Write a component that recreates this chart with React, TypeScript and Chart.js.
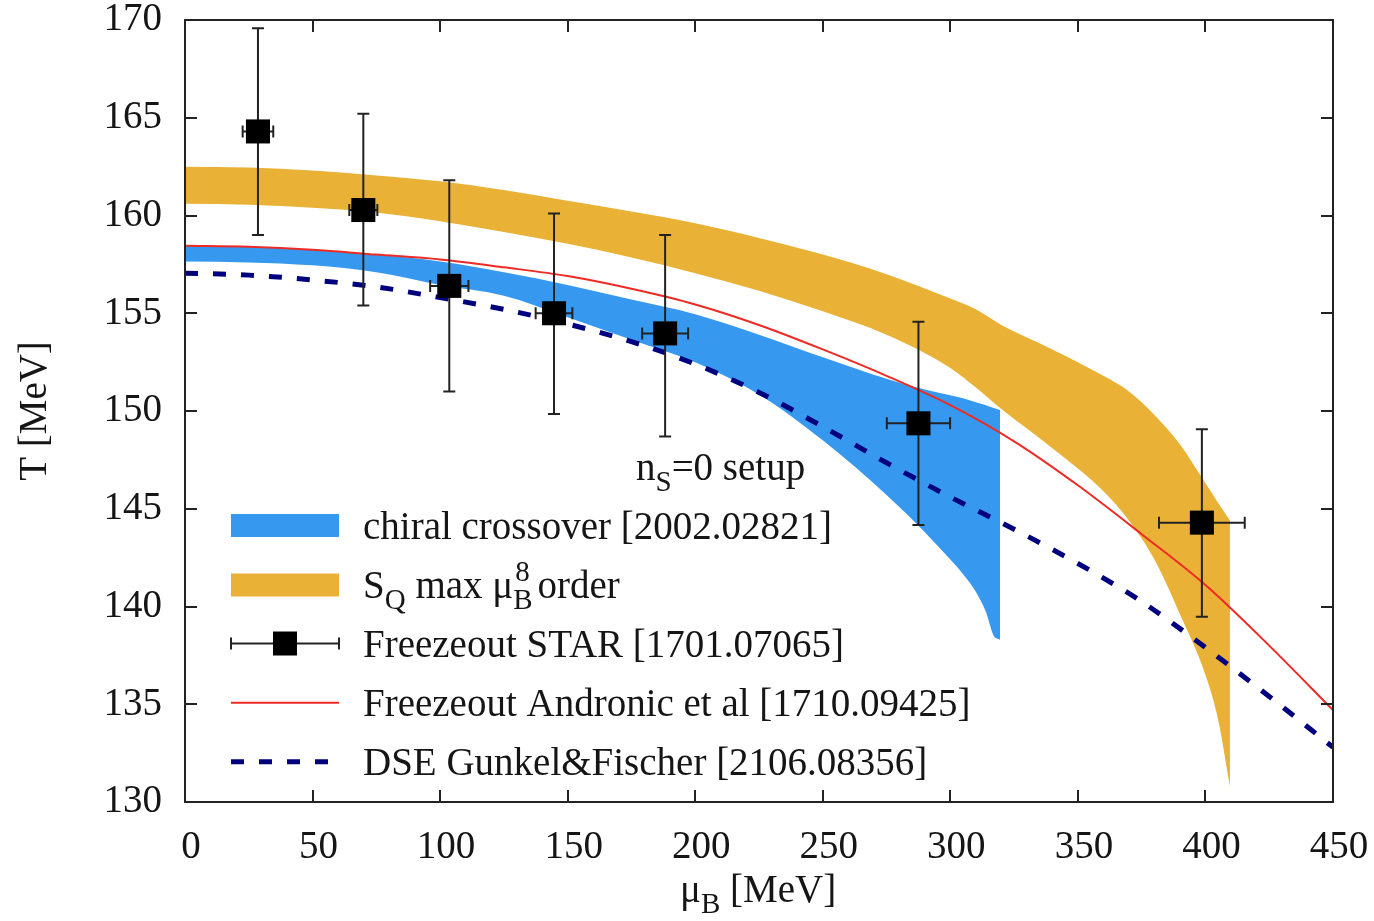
import React, { useEffect, useRef } from 'react';
import { Chart, registerables } from 'chart.js';

Chart.register(...registerables);

const FONT = '"Liberation Serif", "Times New Roman", serif';

// ---- axis ticks ----
const X_MIN = 0;
const X_MAX = 450;
const X_STEP = 50;
const Y_MIN = 130;
const Y_MAX = 170;
const Y_STEP = 5;

// ---- S_Q max mu_B^8 order band (orange) ----
const SQ_MU = [0, 25, 50, 75, 100, 125, 150, 175, 200, 225, 250, 275, 300, 310, 320, 340, 360, 370, 380, 390, 400, 405, 409.6];
const SQ_UPPER = [162.5, 162.45, 162.3, 162.05, 161.75, 161.3, 160.75, 160.2, 159.6, 158.85, 158.0, 157.0, 155.75, 155.2, 154.4, 153.15, 151.8, 151.0, 149.8, 148.3, 146.3, 145.3, 144.4];
const SQ_LOWER = [160.6, 160.55, 160.4, 160.15, 159.7, 159.15, 158.55, 157.85, 157.05, 156.15, 155.1, 153.9, 152.2, 151.2, 150.1, 148.1, 145.9, 144.4, 142.4, 139.6, 136.5, 134.2, 130.8];

// ---- chiral crossover band (blue) ----
const CC_MU = [0, 25, 50, 75, 100, 125, 150, 175, 200, 225, 250, 275, 290, 300, 305, 310, 314, 317, 319.5];
const CC_UPPER = [158.45, 158.4, 158.25, 158.0, 157.65, 157.1, 156.45, 155.7, 154.95, 153.9, 152.75, 151.65, 151.1, 150.8, 150.65, 150.45, 150.3, 150.15, 150.05];
const CC_LOWER = [157.65, 157.6, 157.45, 157.1, 156.45, 155.9, 154.8, 153.65, 152.5, 150.85, 148.5, 145.7, 143.8, 142.4, 141.65, 140.75, 139.7, 138.5, 138.3];

// ---- Freezeout Andronic et al (red line) ----
const AN_MU = [0, 25, 50, 75, 100, 125, 150, 175, 200, 225, 250, 275, 300, 325, 350, 375, 400, 425, 450];
const AN_T = [158.45, 158.4, 158.25, 158.0, 157.75, 157.35, 156.9, 156.25, 155.45, 154.4, 153.15, 151.8, 150.3, 148.45, 146.2, 143.7, 141.1, 138.0, 134.7];

// ---- DSE Gunkel & Fischer (dashed navy) ----
const DSE_MU = [0, 25, 50, 75, 100, 125, 150, 175, 200, 225, 250, 275, 300, 325, 350, 375, 400, 425, 450];
const DSE_T = [157.05, 156.95, 156.7, 156.35, 155.8, 155.2, 154.45, 153.55, 152.4, 150.95, 149.2, 147.35, 145.6, 143.95, 142.2, 140.25, 137.9, 135.4, 132.8];

// ---- Freezeout STAR points with errors ----
const STAR_MU = [28.6, 69.9, 103.6, 144.65, 188.2, 287.5, 398.6];
const STAR_T = [164.3, 160.28, 156.4, 155.0, 153.97, 149.37, 144.29];
const STAR_T_LO = [159.0, 155.4, 151.0, 149.85, 148.7, 144.17, 139.48];
const STAR_T_HI = [169.58, 165.2, 161.8, 160.1, 159.0, 154.57, 149.07];
const STAR_MU_ERR = [6, 5.5, 7.5, 7.2, 9, 12.4, 16.8];

const BLUE = '#3699ef';
const ORANGE = '#e9b236';
const RED = '#ee2a24';
const NAVY = '#00007f';
const INK = '#151515';

const pts = (xs: number[], ys: number[]) => xs.map((x, i) => ({ x, y: ys[i] }));

type Part = { t: string; kind?: 'sub' | 'subsup'; sup?: string };

const MAIN = 39;
const SMALL = 29;

function drawRich(ctx: CanvasRenderingContext2D, x: number, y: number, parts: Part[]) {
  let cx = x;
  for (const p of parts) {
    if (!p.kind) {
      ctx.font = `${MAIN}px ${FONT}`;
      ctx.fillText(p.t, cx, y);
      cx += ctx.measureText(p.t).width;
    } else if (p.kind === 'sub') {
      ctx.font = `${SMALL}px ${FONT}`;
      ctx.fillText(p.t, cx, y + 11);
      cx += ctx.measureText(p.t).width;
    } else {
      ctx.font = `${SMALL}px ${FONT}`;
      ctx.fillText(p.t, cx, y + 11);
      const w1 = ctx.measureText(p.t).width;
      const sup = p.sup || '';
      ctx.fillText(sup, cx + 2, y - 17);
      const w2 = ctx.measureText(sup).width + 2;
      cx += Math.max(w1, w2) + 5;
    }
  }
}

const LEGEND_ROWS: { kind: 'band' | 'star' | 'line' | 'dash'; color: string; parts: Part[] }[] = [
  { kind: 'band', color: BLUE, parts: [{ t: 'chiral crossover [2002.02821]' }] },
  {
    kind: 'band',
    color: ORANGE,
    parts: [{ t: 'S' }, { t: 'Q', kind: 'sub' }, { t: ' max μ' }, { t: 'B', kind: 'subsup', sup: '8' }, { t: 'order' }],
  },
  { kind: 'star', color: INK, parts: [{ t: 'Freezeout STAR [1701.07065]' }] },
  { kind: 'line', color: RED, parts: [{ t: 'Freezeout Andronic et al [1710.09425]' }] },
  { kind: 'dash', color: NAVY, parts: [{ t: 'DSE Gunkel&Fischer [2106.08356]' }] },
];

const decorPlugin = {
  id: 'decor',
  beforeDatasetDraw(chart: any, args: any) {
    if (args.index !== 6) return;
    const ctx: CanvasRenderingContext2D = chart.ctx;
    const xs = chart.scales.x;
    const ys = chart.scales.y;
    ctx.save();
    ctx.strokeStyle = '#222';
    ctx.lineWidth = 2;
    for (let i = 0; i < STAR_MU.length; i++) {
      const px = xs.getPixelForValue(STAR_MU[i]);
      const py = ys.getPixelForValue(STAR_T[i]);
      const pLo = ys.getPixelForValue(STAR_T_LO[i]);
      const pHi = ys.getPixelForValue(STAR_T_HI[i]);
      const xl = xs.getPixelForValue(STAR_MU[i] - STAR_MU_ERR[i]);
      const xr = xs.getPixelForValue(STAR_MU[i] + STAR_MU_ERR[i]);
      ctx.beginPath();
      ctx.moveTo(px, pLo);
      ctx.lineTo(px, pHi);
      ctx.moveTo(px - 6, pLo);
      ctx.lineTo(px + 6, pLo);
      ctx.moveTo(px - 6, pHi);
      ctx.lineTo(px + 6, pHi);
      ctx.moveTo(xl, py);
      ctx.lineTo(xr, py);
      ctx.moveTo(xl, py - 6);
      ctx.lineTo(xl, py + 6);
      ctx.moveTo(xr, py - 6);
      ctx.lineTo(xr, py + 6);
      ctx.stroke();
    }
    ctx.restore();
  },
  afterDraw(chart: any) {
    const ctx: CanvasRenderingContext2D = chart.ctx;
    const { left, right, top, bottom } = chart.chartArea;
    const xs = chart.scales.x;
    const ys = chart.scales.y;
    ctx.save();
    // frame and inward ticks
    ctx.strokeStyle = '#222';
    ctx.lineWidth = 2;
    ctx.strokeRect(left, top, right - left, bottom - top);
    ctx.beginPath();
    const TL = 12;
    xs.ticks.forEach((t: any) => {
      const px = Math.round(xs.getPixelForValue(t.value));
      ctx.moveTo(px, bottom);
      ctx.lineTo(px, bottom - TL);
      ctx.moveTo(px, top);
      ctx.lineTo(px, top + TL);
    });
    ys.ticks.forEach((t: any) => {
      const py = Math.round(ys.getPixelForValue(t.value));
      ctx.moveTo(left, py);
      ctx.lineTo(left + TL, py);
      ctx.moveTo(right, py);
      ctx.lineTo(right - TL, py);
    });
    ctx.stroke();

    // axis titles
    ctx.fillStyle = INK;
    ctx.textBaseline = 'alphabetic';
    ctx.textAlign = 'left';
    drawRich(ctx, 680, 902, [{ t: 'μ' }, { t: 'B', kind: 'sub' }, { t: ' [MeV]' }]);
    ctx.save();
    ctx.translate(46, 411);
    ctx.rotate(-Math.PI / 2);
    ctx.font = `${MAIN}px ${FONT}`;
    ctx.textAlign = 'center';
    ctx.fillText('T [MeV]', 0, 0);
    ctx.restore();

    // annotation
    ctx.textAlign = 'left';
    drawRich(ctx, 636, 480, [{ t: 'n' }, { t: 'S', kind: 'sub' }, { t: '=0 setup' }]);

    // legend
    const sx0 = 231;
    const sx1 = 339;
    const tx = 363;
    const rowY = [525.5, 585, 643.5, 702.7, 761.7];
    LEGEND_ROWS.forEach((row, i) => {
      const cy = rowY[i];
      if (row.kind === 'band') {
        ctx.fillStyle = row.color;
        ctx.fillRect(sx0, cy - 11.5, sx1 - sx0, 23);
      } else if (row.kind === 'star') {
        ctx.strokeStyle = '#222';
        ctx.lineWidth = 2;
        ctx.beginPath();
        ctx.moveTo(sx0, cy);
        ctx.lineTo(sx1, cy);
        ctx.moveTo(sx0, cy - 6);
        ctx.lineTo(sx0, cy + 6);
        ctx.moveTo(sx1, cy - 6);
        ctx.lineTo(sx1, cy + 6);
        ctx.stroke();
        ctx.fillStyle = '#000';
        const mx = (sx0 + sx1) / 2;
        ctx.fillRect(mx - 12, cy - 12, 24, 24);
      } else if (row.kind === 'line') {
        ctx.strokeStyle = row.color;
        ctx.lineWidth = 2;
        ctx.beginPath();
        ctx.moveTo(sx0, cy);
        ctx.lineTo(sx1, cy);
        ctx.stroke();
      } else {
        ctx.strokeStyle = row.color;
        ctx.lineWidth = 5;
        ctx.setLineDash([13, 15]);
        ctx.beginPath();
        ctx.moveTo(sx0, cy);
        ctx.lineTo(sx1, cy);
        ctx.stroke();
        ctx.setLineDash([]);
      }
      ctx.fillStyle = INK;
      drawRich(ctx, tx, cy + 13, row.parts);
    });
    ctx.restore();
  },
};

export default function App() {
  const canvasRef = useRef<HTMLCanvasElement | null>(null);

  useEffect(() => {
    const canvas = canvasRef.current;
    if (!canvas) return;
    const common = {
      pointRadius: 0,
      pointHoverRadius: 0,
      cubicInterpolationMode: 'monotone' as const,
    };
    const chart = new Chart(canvas, {
      type: 'line',
      data: {
        datasets: [
          {
            ...common,
            label: 'SQ upper',
            data: pts(SQ_MU, SQ_UPPER),
            fill: '+1',
            backgroundColor: ORANGE,
            borderColor: 'rgba(0,0,0,0)',
            borderWidth: 0,
            order: 50,
          },
          {
            ...common,
            label: 'SQ lower',
            data: pts(SQ_MU, SQ_LOWER),
            fill: false,
            borderColor: 'rgba(0,0,0,0)',
            borderWidth: 0,
            order: 51,
          },
          {
            ...common,
            label: 'chiral upper',
            data: pts(CC_MU, CC_UPPER),
            fill: '+1',
            backgroundColor: BLUE,
            borderColor: 'rgba(0,0,0,0)',
            borderWidth: 0,
            order: 40,
          },
          {
            ...common,
            label: 'chiral lower',
            data: pts(CC_MU, CC_LOWER),
            fill: false,
            borderColor: 'rgba(0,0,0,0)',
            borderWidth: 0,
            order: 41,
          },
          {
            ...common,
            label: 'Freezeout Andronic et al [1710.09425]',
            data: pts(AN_MU, AN_T),
            fill: false,
            borderColor: RED,
            borderWidth: 2,
            order: 30,
          },
          {
            ...common,
            label: 'DSE Gunkel&Fischer [2106.08356]',
            data: pts(DSE_MU, DSE_T),
            fill: false,
            borderColor: NAVY,
            borderWidth: 5,
            borderDash: [13, 15],
            borderCapStyle: 'butt',
            order: 20,
          },
          {
            label: 'Freezeout STAR [1701.07065]',
            data: pts(STAR_MU, STAR_T),
            showLine: false,
            pointStyle: 'rect',
            pointRadius: 17,
            pointHoverRadius: 17,
            pointBackgroundColor: '#000',
            pointBorderWidth: 0,
            backgroundColor: '#000',
            borderColor: '#000',
            fill: false,
            order: 10,
          },
        ],
      },
      options: {
        responsive: false,
        animation: false,
        events: [],
        layout: { padding: { top: 20, right: 41, left: 0, bottom: 0 } },
        plugins: {
          legend: { display: false },
          tooltip: { enabled: false },
          title: { display: false },
        },
        scales: {
          x: {
            type: 'linear',
            min: X_MIN,
            max: X_MAX,
            ticks: {
              stepSize: X_STEP,
              color: INK,
              font: { family: FONT, size: MAIN },
              padding: 22,
              labelOffset: 6,
              maxRotation: 0,
            },
            grid: { display: false, drawTicks: false },
            border: { display: false },
            afterFit: (scale: any) => {
              scale.height = 921 - 802;
              scale.paddingLeft = 0;
              scale.paddingRight = 0;
              scale.paddingTop = 0;
              scale.paddingBottom = 0;
            },
          },
          y: {
            type: 'linear',
            min: Y_MIN,
            max: Y_MAX,
            ticks: {
              stepSize: Y_STEP,
              color: INK,
              font: { family: FONT, size: MAIN },
              padding: 23,
            },
            grid: { display: false, drawTicks: false },
            border: { display: false },
            afterFit: (scale: any) => {
              scale.width = 185;
              scale.paddingLeft = 0;
              scale.paddingRight = 0;
              scale.paddingTop = 0;
              scale.paddingBottom = 0;
            },
          },
        },
      },
      plugins: [decorPlugin],
    });
    return () => chart.destroy();
  }, []);

  return (
    <div style={{ position: 'absolute', left: 0, top: 0, width: 1374, height: 921, background: '#fff' }}>
      <canvas ref={canvasRef} width={1374} height={921} style={{ display: 'block' }} />
    </div>
  );
}
